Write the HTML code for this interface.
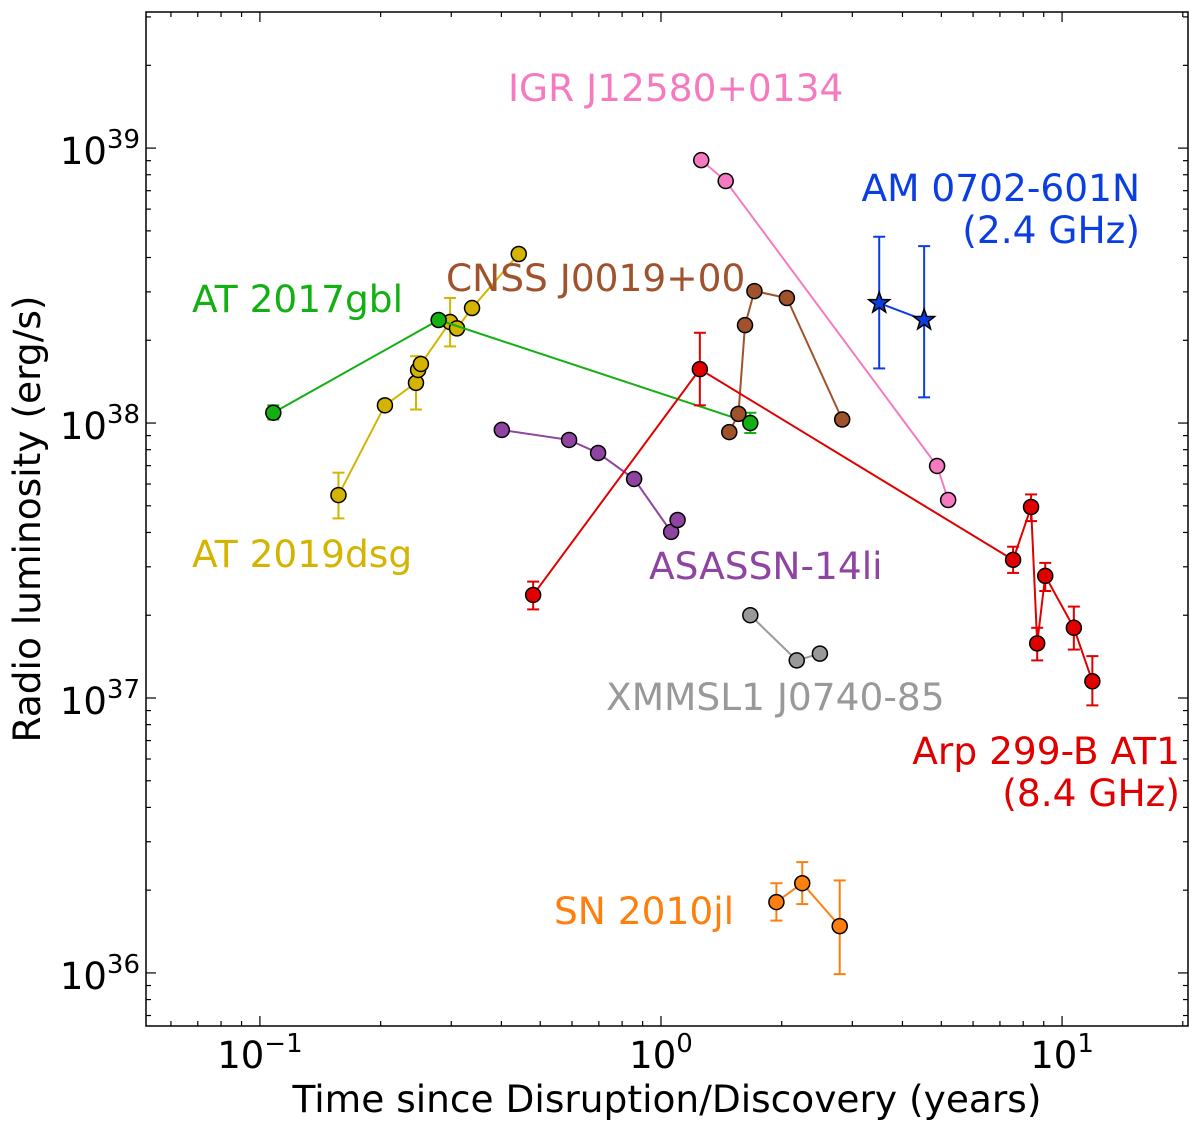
<!DOCTYPE html>
<html><head><meta charset="utf-8"><style>
body{margin:0;background:#fff;}
svg text{font-family:"DejaVu Sans","Liberation Sans",sans-serif;}
</style></head><body>
<svg id="chart" width="1200" height="1129" xmlns="http://www.w3.org/2000/svg"></svg>
<script>
const seriesNames=["AT 2017gbl","AT 2019dsg","IGR J12580+0134","AM 0702-601N","CNSS J0019+00","ASASSN-14li","Arp 299-B AT1","XMMSL1 J0740-85","SN 2010jl"];
const colors=["#12b012","#d4b400","#f57ac0","#0a3ee0","#a0522d","#8e44a0","#e00000","#999999","#ff7f0e"];
const tAT17=[0.108,0.279,1.67];const lAT17=[1.09e38,2.37e38,1.0e38];
const eAT17=[[1.03e38,1.16e38],[2.3e38,2.45e38],[0.92e38,1.09e38]];
const tAT19=[0.157,0.205,0.245,0.248,0.252,0.298,0.310,0.338,0.442];
const lAT19=[5.47e37,1.16e38,1.40e38,1.56e38,1.64e38,2.33e38,2.21e38,2.62e38,4.12e38];
const eAT19=[[4.5e37,6.6e37],null,[1.12e38,1.75e38],null,null,[1.9e38,2.85e38],null,null,null];
const tIGR=[1.26,1.45,4.88,5.2];const lIGR=[9.04e38,7.59e38,6.98e37,5.25e37];
const tAM=[3.50,4.53];const lAM=[2.73e38,2.37e38];const eAM=[[1.58e38,4.76e38],[1.24e38,4.4e38]];
const tCNSS=[1.48,1.56,1.62,1.71,2.06,2.83];const lCNSS=[9.27e37,1.08e38,2.27e38,3.02e38,2.85e38,1.03e38];
const tASN=[0.401,0.590,0.697,0.857,1.06,1.10];const lASN=[9.44e37,8.68e37,7.78e37,6.26e37,4.02e37,4.44e37];
const tARP=[0.48,1.25,7.55,8.37,8.67,9.08,10.7,11.9];
const lARP=[2.37e37,1.57e38,3.18e37,4.95e37,1.58e37,2.78e37,1.8e37,1.15e37];
const eARP=[[2.1e37,2.65e37],[1.16e38,2.13e38],[2.85e37,3.55e37],[4.4e37,5.5e37],[1.37e37,1.8e37],[2.45e37,3.1e37],[1.5e37,2.15e37],[0.94e37,1.42e37]];
const tXMM=[1.67,2.18,2.49];const lXMM=[2.0e37,1.37e37,1.45e37];
const tSN=[1.94,2.25,2.79];const lSN=[1.81e36,2.12e36,1.48e36];
const eSN=[[1.55e36,2.12e36],[1.78e36,2.53e36],[0.99e36,2.17e36]];
const xTickLabels=["10","10","10"];const xTickExp=["−1","0","1"];const xTickVals=[0.1,1,10];
const yTickVals=[1e36,1e37,1e38,1e39];const yTickExp=["36","37","38","39"];

const L=146,R=1188,T=12,B=1026;
const xmin=-1.284,xmax=1.314,ymin=35.807,ymax=39.495;
const X=v=>L+(Math.log10(v)-xmin)/(xmax-xmin)*(R-L);
const Y=v=>B-(Math.log10(v)-ymin)/(ymax-ymin)*(B-T);
const svg=document.getElementById('chart');const NS="http://www.w3.org/2000/svg";
function mk(tag,at,parent){const e=document.createElementNS(NS,tag);for(const k in at)e.setAttribute(k,at[k]);(parent||svg).appendChild(e);return e;}
const frame=mk('rect',{x:L,y:T,width:R-L,height:B-T,fill:'none',stroke:'#000','stroke-width':1.5});


for(let d=-2;d<=1;d++)for(let m=1;m<10;m++){const v=m*Math.pow(10,d);const lv=Math.log10(v);if(lv<xmin||lv>xmax)continue;const x=X(v);const len=m==1?10:5;
mk('line',{x1:x,x2:x,y1:B,y2:B-len,stroke:'#000','stroke-width':1.2});mk('line',{x1:x,x2:x,y1:T,y2:T+len,stroke:'#000','stroke-width':1.2});}
for(let d=35;d<=39;d++)for(let m=1;m<10;m++){const v=m*Math.pow(10,d);const lv=Math.log10(v);if(lv<ymin||lv>ymax)continue;const y=Y(v);const len=m==1?10:5;
mk('line',{x1:L,x2:L+len,y1:y,y2:y,stroke:'#000','stroke-width':1.2});mk('line',{x1:R,x2:R-len,y1:y,y2:y,stroke:'#000','stroke-width':1.2});}
xTickVals.forEach((v,i)=>{const t=mk('text',{x:X(v),y:1068,'font-size':37,'text-anchor':'middle'});
t.innerHTML=xTickLabels[i]+'<tspan dy="-16" font-size="26">'+xTickExp[i]+'</tspan>';});
yTickVals.forEach((v,i)=>{const t=mk('text',{x:140,y:Y(v)+16,'font-size':37,'text-anchor':'end'});
t.innerHTML='10<tspan dy="-16" font-size="26">'+yTickExp[i]+'</tspan>';});
const xt=mk('text',{x:667,y:1112,'font-size':37.5,'text-anchor':'middle'});xt.textContent='Time since Disruption/Discovery (years)';

const yt=mk('text',{x:40,y:519,'font-size':37.5,'text-anchor':'middle',transform:'rotate(-90 40 519)'});yt.textContent='Radio luminosity (erg/s)';


function series(name,ts,ls,errs,col,star){
 const g=mk('g',{});
 if(errs)errs.forEach((e,i)=>{if(!e)return;const x=X(ts[i]);mk('line',{x1:x,x2:x,y1:Y(e[0]),y2:Y(e[1]),stroke:col,'stroke-width':2},g);
  mk('line',{x1:x-6,x2:x+6,y1:Y(e[0]),y2:Y(e[0]),stroke:col,'stroke-width':2},g);mk('line',{x1:x-6,x2:x+6,y1:Y(e[1]),y2:Y(e[1]),stroke:col,'stroke-width':2},g);});
 mk('polyline',{points:ts.map((t,i)=>X(t)+','+Y(ls[i])).join(' '),fill:'none',stroke:col,'stroke-width':2},g);
 ts.forEach((t,i)=>{const x=X(t),y=Y(ls[i]);let p;
  if(star){let pts=[];for(let k=0;k<10;k++){const r=k%2?4.5:11;const a=-Math.PI/2+k*Math.PI/5;pts.push((x+r*Math.cos(a))+','+(y+r*Math.sin(a)));}
   p=mk('polygon',{points:pts.join(' '),fill:col,stroke:'#000','stroke-width':1.5},g);}
  else p=mk('circle',{cx:x,cy:y,r:7.5,fill:col,stroke:'#000','stroke-width':1.5},g);
  });
}
series(seriesNames[1],tAT19,lAT19,eAT19,colors[1]);
series(seriesNames[0],tAT17,lAT17,eAT17,colors[0]);
series(seriesNames[2],tIGR,lIGR,null,colors[2]);
series(seriesNames[3],tAM,lAM,eAM,colors[3],true);
series(seriesNames[4],tCNSS,lCNSS,null,colors[4]);
series(seriesNames[5],tASN,lASN,null,colors[5]);
series(seriesNames[6],tARP,lARP,eARP,colors[6]);
series(seriesNames[7],tXMM,lXMM,null,colors[7]);
series(seriesNames[8],tSN,lSN,eSN,colors[8]);
const labels=[[0,192,312,'start',['AT 2017gbl']],[1,192,567,'start',['AT 2019dsg']],[2,508,101,'start',['IGR J12580+0134']],
[3,1140,201,'end',['AM 0702-601N','(2.4 GHz)']],[4,446,291,'start',['CNSS J0019+00']],[5,649,579,'start',['ASASSN-14li']],
[6,1180,764,'end',['Arp 299-B AT1','(8.4 GHz)']],[7,606,710,'start',['XMMSL1 J0740-85']],[8,554,924,'start',['SN 2010jl']]];
labels.forEach(([i,x,y,a,lines])=>{const t=mk('text',{x:x,y:y,'font-size':37.5,'text-anchor':a,fill:colors[i]});
 
 lines.forEach((s,k)=>{const sp=mk('tspan',{x:x,dy:k?42:0},t);sp.textContent=s;});});
</script>
</body></html>
